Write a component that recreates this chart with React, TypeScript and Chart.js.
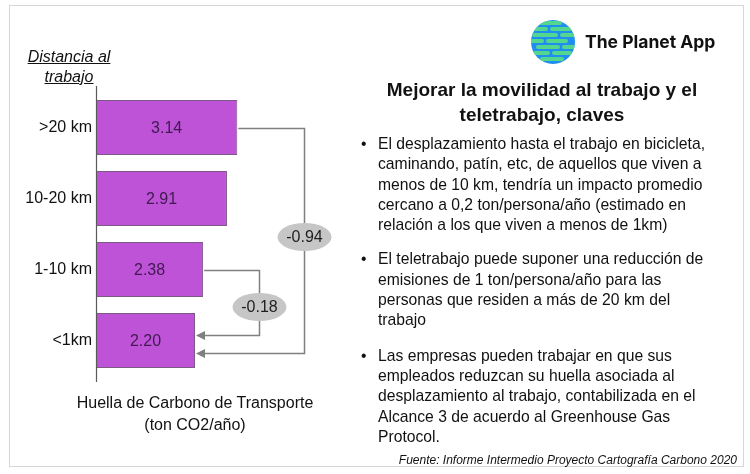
import React, { useEffect, useRef } from "react";
import { Chart, registerables } from "chart.js";

Chart.register(...registerables);

const categories = [">20 km", "10-20 km", "1-10 km", "<1km"];
const footprint = [3.14, 2.91, 2.38, 2.2];
// brackets: from category index -> to category index, x position in value units
const bracketFrom = [0, 2];
const bracketTo = [3, 3];
const bracketX = [4.62, 3.62];
const bracketEndShift = [12, -6];
const bracketLabelShift = [-4, 4];

const FONT = 'Arial, "Liberation Sans", sans-serif';

const overlayPlugin = {
  id: "overlay",
  afterDatasetsDraw(chart: any) {
    const { ctx, chartArea, scales } = chart;
    const xs = scales.x;
    const ys = scales.y;
    ctx.save();
    // axis line
    ctx.strokeStyle = "#5a5a5a";
    ctx.lineWidth = 1.2;
    ctx.beginPath();
    const ax = Math.round(xs.getPixelForValue(0)) + 0.5;
    ctx.moveTo(ax, chartArea.top - 6);
    ctx.lineTo(ax, chartArea.bottom + 6);
    ctx.stroke();

    // value labels
    const meta = chart.getDatasetMeta(0);
    ctx.fillStyle = "#3e1a4e";
    ctx.font = `16px ${FONT}`;
    ctx.textAlign = "center";
    ctx.textBaseline = "middle";
    meta.data.forEach((el: any, i: number) => {
      ctx.fillText(footprint[i].toFixed(2), (el.x + el.base) / 2, el.y + 1);
    });

    // brackets
    bracketFrom.forEach((from, k) => {
      const to = bracketTo[k];
      const x1 = xs.getPixelForValue(footprint[from]);
      const y1 = Math.round(ys.getPixelForValue(from)) + 0.5;
      const xb = Math.round(xs.getPixelForValue(bracketX[k])) + 0.5;
      const x2 = xs.getPixelForValue(footprint[to]);
      const y2 = Math.round(ys.getPixelForValue(to) + bracketEndShift[k]) + 0.5;
      ctx.strokeStyle = "#808080";
      ctx.fillStyle = "#808080";
      ctx.lineWidth = 1.5;
      ctx.beginPath();
      ctx.moveTo(x1 + 1, y1);
      ctx.lineTo(xb, y1);
      ctx.lineTo(xb, y2);
      ctx.lineTo(x2 + 6, y2);
      ctx.stroke();
      ctx.beginPath();
      ctx.moveTo(x2 + 1, y2);
      ctx.lineTo(x2 + 10, y2 - 4.5);
      ctx.lineTo(x2 + 10, y2 + 4.5);
      ctx.closePath();
      ctx.fill();
      const cy = (y1 + y2) / 2 + bracketLabelShift[k];
      ctx.fillStyle = "#c6c6c6";
      ctx.beginPath();
      ctx.ellipse(xb, cy, 27, 14, 0, 0, Math.PI * 2);
      ctx.fill();
      ctx.fillStyle = "#1e1e1e";
      ctx.font = `16px ${FONT}`;
      ctx.textAlign = "center";
      ctx.textBaseline = "middle";
      const diff = (footprint[to] - footprint[from]).toFixed(2);
      ctx.fillText(diff, xb, cy + 1);
    });
    ctx.restore();
  },
};

function Logo() {
  return (
    <svg width="46" height="46" viewBox="0 0 46 46" style={{ position: "absolute", left: 530, top: 19 }}>
      <defs>
        <clipPath id="globe">
          <circle cx="23" cy="23" r="22" />
        </clipPath>
      </defs>
      <circle cx="23" cy="23" r="22" fill="#1f8ef0" />
      <g clipPath="url(#globe)" stroke="#55d68f" strokeWidth="4" strokeLinecap="round">
        <line x1="10" y1="4" x2="30" y2="4" />
        <line x1="0" y1="10" x2="16" y2="10" />
        <line x1="22" y1="10" x2="40" y2="10" />
        <line x1="4" y1="16" x2="26" y2="16" />
        <line x1="32" y1="16" x2="46" y2="16" />
        <line x1="0" y1="22" x2="12" y2="22" />
        <line x1="18" y1="22" x2="36" y2="22" />
        <line x1="8" y1="28" x2="28" y2="28" />
        <line x1="34" y1="28" x2="46" y2="28" />
        <line x1="0" y1="34" x2="18" y2="34" />
        <line x1="24" y1="34" x2="40" y2="34" />
        <line x1="12" y1="40" x2="32" y2="40" />
      </g>
    </svg>
  );
}

export default function App() {
  const canvasRef = useRef<HTMLCanvasElement>(null);
  useEffect(() => {
    const chart = new Chart(canvasRef.current as HTMLCanvasElement, {
      type: "bar",
      data: {
        labels: categories,
        datasets: [
          {
            data: footprint,
            backgroundColor: "#bf53d8",
            borderColor: "#7d5a86",
            borderWidth: 1,
            categoryPercentage: 1,
            barPercentage: 0.775,
          },
        ],
      },
      options: {
        indexAxis: "y",
        animation: false,
        responsive: false,
        maintainAspectRatio: false,
        layout: { padding: { left: 8, top: 92, right: 429, bottom: 98 } },
        plugins: { legend: { display: false }, tooltip: { enabled: false }, title: { display: false } },
        scales: {
          x: { display: false, min: 0, max: 5 },
          y: {
            grid: { display: false, drawTicks: false },
            border: { display: false },
            ticks: { color: "#111", font: { family: FONT, size: 16 }, padding: 4 },
            afterFit: (s: any) => {
              s.width = 88;
            },
          },
        },
      },
      plugins: [overlayPlugin],
    } as any);
    return () => chart.destroy();
  }, []);

  const bullet: React.CSSProperties = { position: "relative", paddingLeft: 0 };
  const dot: React.CSSProperties = { position: "absolute", left: -17, top: 0 };

  return (
    <div style={{ position: "absolute", left: 0, top: 0, width: 750, height: 474, background: "#fff", fontFamily: FONT, color: "#111" }}>
      <div style={{ position: "absolute", left: 9, top: 5, width: 735, height: 462, border: "1.5px solid #d6d6d6", boxSizing: "border-box" }} />
      <canvas ref={canvasRef} width={750} height={474} style={{ position: "absolute", left: 0, top: 0, width: 750, height: 474 }} />
      <div style={{ position: "absolute", left: 9, top: 47, width: 120, textAlign: "center", fontStyle: "italic", textDecoration: "underline", fontSize: 16, lineHeight: "20px" }}>
        Distancia al
        <br />
        trabajo
      </div>
      <div style={{ position: "absolute", left: 55, top: 392, width: 280, textAlign: "center", fontSize: 16, lineHeight: "22px" }}>
        Huella de Carbono de Transporte
        <br />
        (ton CO2/año)
      </div>
      <Logo />
      <div style={{ position: "absolute", left: 585, top: 31, fontFamily: "Inter, 'Noto Sans', sans-serif", fontWeight: 700, fontSize: 17.5, lineHeight: "22px", color: "#111" }}>
        The Planet App
      </div>
      <div style={{ position: "absolute", left: 342, top: 77, width: 400, textAlign: "center", fontWeight: 700, fontSize: 19, lineHeight: "25px" }}>
        Mejorar la movilidad al trabajo y el
        <br />
        teletrabajo, claves
      </div>
      <div style={{ position: "absolute", left: 378, top: 134, width: 370, fontSize: 15.7, lineHeight: "20.3px" }}>
        <div style={bullet}>
          <span style={dot}>•</span>
          El desplazamiento hasta el trabajo en bicicleta,
          <br />
          caminando, patín, etc, de aquellos que viven a
          <br />
          menos de 10 km, tendría un impacto promedio
          <br />
          cercano a 0,2 ton/persona/año (estimado en
          <br />
          relación a los que viven a menos de 1km)
        </div>
        <div style={{ ...bullet, marginTop: 14 }}>
          <span style={dot}>•</span>
          El teletrabajo puede suponer una reducción de
          <br />
          emisiones de 1 ton/persona/año para las
          <br />
          personas que residen a más de 20 km del
          <br />
          trabajo
        </div>
        <div style={{ ...bullet, marginTop: 15 }}>
          <span style={dot}>•</span>
          Las empresas pueden trabajar en que sus
          <br />
          empleados reduzcan su huella asociada al
          <br />
          desplazamiento al trabajo, contabilizada en el
          <br />
          Alcance 3 de acuerdo al Greenhouse Gas
          <br />
          Protocol.
        </div>
      </div>
      <div style={{ position: "absolute", right: 13, top: 451, fontStyle: "italic", fontSize: 12, lineHeight: "18px" }}>
        Fuente: Informe Intermedio Proyecto Cartografía Carbono 2020
      </div>
    </div>
  );
}
